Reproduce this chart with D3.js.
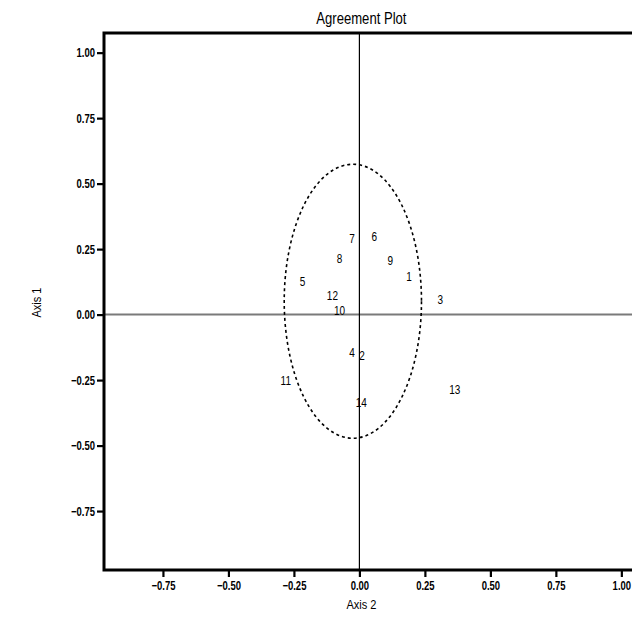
<!DOCTYPE html>
<html>
<head>
<meta charset="utf-8">
<script src="https://cdn.jsdelivr.net/npm/d3@7"></script>
<style>
  html, body { margin: 0; padding: 0; background: #fff; }
  svg { display: block; }
  text { font-family: "Liberation Sans", Arial, sans-serif; fill: #000; }
</style>
</head>
<body>
<svg id="chart" width="632" height="618"></svg>
<script>
// Point labels and their coordinates on the two axes
const labels = ["1", "2", "3", "4", "5", "6", "7", "8", "9", "10", "11", "12", "13", "14"];
const axis2 = [0.189, 0.010, 0.309, -0.028, -0.217, 0.057, -0.028, -0.076, 0.118, -0.076, -0.281, -0.103, 0.364, 0.007];
const axis1 = [0.145, -0.155, 0.057, -0.145, 0.126, 0.298, 0.290, 0.213, 0.206, 0.015, -0.252, 0.073, -0.287, -0.335];

// Agreement ellipse: centre and semi-axes in data units
const ellipseCenter = [-0.025, 0.051];
const ellipseRadii = [0.262, 0.523];

// Tick values shared by both axes
const tickValues = [-0.75, -0.50, -0.25, 0.00, 0.25, 0.50, 0.75, 1.00];
const domain = [-0.975, 1.075];

const svg = d3.select("#chart");
const plotLeft = 104, plotTop = 33, plotSide = 537;

const x = d3.scaleLinear().domain(domain).range([plotLeft, plotLeft + plotSide]);
const y = d3.scaleLinear().domain(domain).range([plotTop + plotSide, plotTop]);
const fmt = d3.format(".2f");

// Narrow lettering: squeeze text horizontally about its anchor point
function squeeze(sel, sx) {
  sel.each(function () {
    const t = d3.select(this);
    const x0 = +t.attr("x") || 0, y0 = +t.attr("y") || 0;
    t.attr("x", 0).attr("y", 0)
     .attr("transform", `translate(${x0},${y0}) scale(${sx},1)`);
  });
}

// Title
svg.append("text")
  .attr("x", x(0) + 2).attr("y", 24)
  .attr("text-anchor", "middle")
  .style("font-size", "17px")
  .text("Agreement Plot")
  .call(squeeze, 0.77);

// Reference lines through the origin
svg.append("line")
  .attr("x1", x(domain[0])).attr("x2", x(domain[1]))
  .attr("y1", y(0)).attr("y2", y(0))
  .attr("stroke", "#7a7a7a").attr("stroke-width", 2);
svg.append("line")
  .attr("x1", x(0)).attr("x2", x(0))
  .attr("y1", y(domain[1])).attr("y2", y(domain[0]))
  .attr("stroke", "#000").attr("stroke-width", 1.2);

// Frame
svg.append("rect")
  .attr("x", x(domain[0])).attr("y", y(domain[1]))
  .attr("width", x(domain[1]) - x(domain[0]))
  .attr("height", y(domain[0]) - y(domain[1]))
  .attr("fill", "none").attr("stroke", "#000").attr("stroke-width", 3);

// Axes
const xAxis = d3.axisBottom(x).tickValues(tickValues).tickFormat(fmt).tickSize(6).tickPadding(4);
const yAxis = d3.axisLeft(y).tickValues(tickValues).tickFormat(fmt).tickSize(6).tickPadding(2);

const gx = svg.append("g").attr("transform", `translate(0,${y(domain[0]) + 1})`).call(xAxis);
const gy = svg.append("g").attr("transform", `translate(${x(domain[0]) - 1},0)`).call(yAxis);
[gx, gy].forEach(g => {
  g.select(".domain").remove();
  g.selectAll(".tick line").attr("stroke", "#000").attr("stroke-width", 2.2);
  g.selectAll(".tick text")
    .style("font-size", "12.5px").style("font-weight", "bold").attr("fill", "#000")
    .call(squeeze, 0.76);
});

// Axis titles
svg.append("text")
  .attr("x", x(0) + 2).attr("y", 609)
  .attr("text-anchor", "middle")
  .style("font-size", "13px")
  .text("Axis 2")
  .call(squeeze, 0.85);
svg.append("text")
  .attr("transform", `translate(41,${y(0) - 12}) rotate(-90) scale(0.85,1)`)
  .attr("text-anchor", "middle")
  .style("font-size", "13px")
  .text("Axis 1");

// Dashed agreement ellipse
svg.append("ellipse")
  .attr("cx", x(ellipseCenter[0])).attr("cy", y(ellipseCenter[1]))
  .attr("rx", x(ellipseRadii[0]) - x(0))
  .attr("ry", y(0) - y(ellipseRadii[1]))
  .attr("fill", "none").attr("stroke", "#000")
  .attr("stroke-width", 1.6).attr("stroke-dasharray", "3,3");

// Labelled points
const pts = labels.map((l, i) => ({ label: l, a2: axis2[i], a1: axis1[i] }));
svg.append("g").selectAll("text")
  .data(pts).join("text")
  .attr("x", d => x(d.a2)).attr("y", d => y(d.a1))
  .attr("text-anchor", "middle")
  .attr("dominant-baseline", "central")
  .style("font-size", "12.5px")
  .text(d => d.label)
  .call(squeeze, 0.8);
</script>
</body>
</html>
